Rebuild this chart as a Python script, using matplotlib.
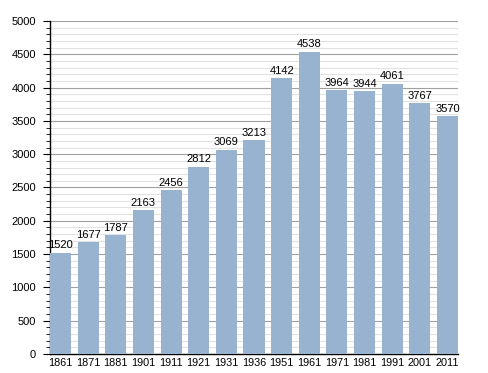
import numpy as np
import matplotlib.pyplot as plt
from matplotlib.ticker import MultipleLocator

plt.rcParams['font.family'] = ['Liberation Sans', 'DejaVu Sans']

years = ['1861', '1871', '1881', '1901', '1911', '1921', '1931', '1936',
         '1951', '1961', '1971', '1981', '1991', '2001', '2011']
population = [1520, 1677, 1787, 2163, 2456, 2812, 3069, 3213,
              4142, 4538, 3964, 3944, 4061, 3767, 3570]

fig = plt.figure(figsize=(4.88, 3.73), dpi=100)
ax = fig.add_axes([50 / 488, 19 / 373, 408 / 488, 333 / 373])

x = np.arange(len(years))
w = 0.76
bars = ax.bar(x, population, width=w, align='edge', color='#98b3cf', zorder=3)
for xi, v in zip(x, population):
    ax.text(xi + w / 2, v + 35, str(v), ha='center', va='bottom', fontsize=8, zorder=4)

ax.set_xlim(0, len(years) - 1 + w)
ax.set_ylim(0, 5000)
ax.set_xticks(x + w / 2)
ax.set_xticklabels(years, fontsize=7.8)
ax.tick_params(axis='x', length=0, pad=3)

ax.yaxis.set_major_locator(MultipleLocator(500))
ax.yaxis.set_minor_locator(MultipleLocator(100))
ax.tick_params(axis='y', which='major', length=5, labelsize=8, pad=5)
ax.tick_params(axis='y', which='minor', length=3)
ax.grid(axis='y', which='major', color='#a0a0a0', linewidth=0.8, zorder=0)
ax.grid(axis='y', which='minor', color='#e2e2e2', linewidth=0.8, zorder=0)

for s in ['top', 'right']:
    ax.spines[s].set_visible(False)
ax.spines['left'].set_linewidth(1)
ax.spines['bottom'].set_linewidth(1)

fig.savefig('out.png', dpi=100)
